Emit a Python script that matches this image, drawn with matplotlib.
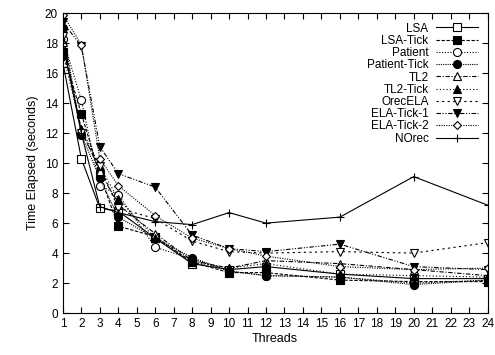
import matplotlib
matplotlib.use("Agg")
import matplotlib.pyplot as plt

plt.rcParams['font.family'] = ['Liberation Sans', 'DejaVu Sans']

threads = [1, 2, 3, 4, 6, 8, 10, 12, 16, 20, 24]

lsa = [16.7, 10.3, 7.0, 6.8, 5.0, 3.3, 2.9, 3.1, 2.6, 2.3, 2.3]
lsa_tick = [17.4, 13.3, 9.2, 5.8, 5.1, 3.4, 2.7, 2.7, 2.2, 2.1, 2.1]
patient = [18.3, 14.2, 8.5, 7.9, 4.4, 3.6, 2.8, 2.5, 2.4, 2.0, 2.2]
patient_tick = [19.0, 11.9, 9.0, 6.4, 5.0, 3.7, 2.8, 2.5, 2.4, 1.9, 2.2]
tl2 = [18.1, 12.2, 9.5, 7.2, 5.3, 3.5, 3.0, 3.5, 3.3, 2.9, 2.5]
tl2_tick = [17.3, 12.3, 9.8, 7.6, 5.0, 3.4, 3.0, 3.3, 2.6, 2.5, 2.4]
orecela = [18.5, 12.0, 9.8, 7.0, 6.3, 4.8, 4.1, 4.0, 4.1, 4.0, 4.7]
ela_tick1 = [19.4, 17.8, 11.1, 9.3, 8.4, 5.2, 4.3, 4.1, 4.6, 3.1, 2.9]
ela_tick2 = [19.9, 17.9, 10.3, 8.5, 6.5, 5.0, 4.3, 3.8, 3.1, 2.9, 3.0]
norec = [18.0, 12.0, 7.1, 6.7, 6.1, 5.9, 6.7, 6.0, 6.4, 9.1, 7.2]

# (label, data, marker, filled, linestyle)
series = [
    ("LSA", lsa, "s", False, "-"),
    ("LSA-Tick", lsa_tick, "s", True, (0, (3, 1.5))),
    ("Patient", patient, "o", False, (0, (1, 1.5))),
    ("Patient-Tick", patient_tick, "o", True, (0, (1, 1))),
    ("TL2", tl2, "^", False, (0, (4, 1.5, 1, 1.5))),
    ("TL2-Tick", tl2_tick, "^", True, (0, (1, 2))),
    ("OrecELA", orecela, "v", False, (0, (2, 3))),
    ("ELA-Tick-1", ela_tick1, "v", True, (0, (4, 1.5, 1, 1.5, 1, 1.5))),
    ("ELA-Tick-2", ela_tick2, "D", False, (0, (1, 1.2))),
    ("NOrec", norec, "+", False, "-"),
]

fig = plt.figure(figsize=(4.95, 3.55), dpi=100)
ax = fig.add_axes([0.127, 0.118, 0.858, 0.845])

for label, ys, m, filled, ls in series:
    ms = 4.5 if m == "D" else 5.8
    ax.plot(threads, ys, label=label, color="black", linestyle=ls, linewidth=0.8,
            marker=m, markersize=ms, markeredgewidth=0.8,
            markerfacecolor="black" if filled else "white",
            markeredgecolor="black")

ax.set_xlim(1, 24)
ax.set_ylim(0, 20)
ax.set_xticks(range(1, 25))
ax.set_yticks(range(0, 21, 2))
ax.tick_params(direction="in", top=True, right=True, labelsize=8.5, length=4, width=0.8)
ax.set_xlabel("Threads", fontsize=9, labelpad=2)
ax.set_ylabel("Time Elapsed (seconds)", fontsize=9, labelpad=4)
for s in ax.spines.values():
    s.set_linewidth(0.8)

leg = ax.legend(loc="upper right", frameon=False, markerfirst=False, fontsize=8.5,
                handlelength=3.6, labelspacing=0.02, borderaxespad=0.4, handletextpad=0.6)
for t in leg.get_texts():
    t.set_ha("right")

fig.savefig("out.png", dpi=100)
